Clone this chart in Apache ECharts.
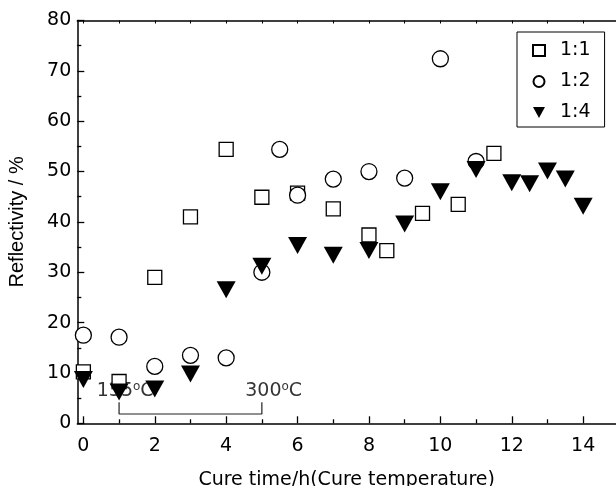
<!DOCTYPE html>
<html>
<head>
<meta charset="utf-8">
<script src="https://cdn.jsdelivr.net/npm/echarts@6/dist/echarts.min.js"></script>
<style>html,body{margin:0;padding:0;background:#fff}#c{width:616px;height:486px}</style>
</head>
<body>
<div id="c"></div>
<script>
// ---- data ----
const seriesNames = ['1:1', '1:2', '1:4'];
const x11 = [0, 1, 2, 3, 4, 5, 6, 7, 8, 8.5, 9.5, 10.5, 11.5];
const y11 = [10.2, 8.3, 29.0, 41.0, 54.4, 44.9, 45.7, 42.6, 37.4, 34.3, 41.7, 43.5, 53.6];
const x12 = [0, 1, 2, 3, 4, 5, 5.5, 6, 7, 8, 9, 10, 11];
const y12 = [17.5, 17.1, 11.3, 13.5, 13.0, 30.0, 54.4, 45.3, 48.5, 50.0, 48.7, 72.4, 52.0];
const x14 = [0, 1, 2, 3, 4, 5, 6, 7, 8, 9, 10, 11, 12, 12.5, 13, 13.5, 14];
const y14 = [8.7, 6.2, 6.8, 9.8, 26.5, 31.2, 35.3, 33.4, 34.3, 39.6, 46.0, 50.4, 47.8, 47.6, 50.1, 48.5, 43.1];
const xTickLabels = [0, 2, 4, 6, 8, 10, 12, 14];
const xMinorTicks = [1, 3, 5, 7, 9, 11, 13];
const xTopTicks = [0, 1, 2, 3, 4, 5, 6, 7, 8, 9, 10, 11, 12, 13, 14];
const bracketX = [1, 1, 5, 5];
const bracketY = [4.2, 1.85, 1.85, 4.2];
const tempLabels = ['135', '300'];
const tempLabelX = [1.17, 5.33];
const tempLabelY = [6.4, 6.4];

const zip = (a, b) => a.map((v, i) => [v, b[i]]);
const F = 'DejaVu Sans';
const FS = 19;
const axisLineStyle = {color: '#000', width: 1.5};

const option = {
  animation: false,
  backgroundColor: '#fff',
  grid: {left: 77.3, right: 0, top: 20.5, bottom: 62.7, containLabel: false, outerBoundsMode: 'none'},
  legend: {
    orient: 'vertical', left: 517, top: 32,
    padding: [9, 14, 5, 15], itemGap: 12,
    itemWidth: 12, itemHeight: 11,
    borderColor: '#000', borderWidth: 1,
    textStyle: {fontFamily: F, fontSize: FS, color: '#000', padding: [0, 0, 0, 10]},
    data: seriesNames
  },
  xAxis: [
    {
      type: 'value', min: -0.17, max: 14.92, position: 'bottom',
      name: 'Cure time/h(Cure temperature)', nameLocation: 'middle', nameGap: 47,
      nameTextStyle: {fontFamily: F, fontSize: FS, color: '#000'},
      axisLine: {show: true, onZero: false, lineStyle: axisLineStyle},
      axisTick: {show: true, inside: true, length: 7, lineStyle: {color: '#000', width: 1.3}, customValues: xTickLabels},
      axisLabel: {fontFamily: F, fontSize: FS, color: '#000', margin: 13, customValues: xTickLabels},
      splitLine: {show: false}
    },
    {
      type: 'value', min: -0.17, max: 14.92, position: 'bottom',
      axisLine: {show: false},
      axisTick: {show: true, inside: true, length: 4, lineStyle: {color: '#000', width: 1.3}, customValues: xMinorTicks},
      axisLabel: {show: false},
      splitLine: {show: false}
    },
    {
      type: 'value', min: -0.17, max: 14.92, position: 'top',
      axisLine: {show: true, onZero: false, lineStyle: axisLineStyle},
      axisTick: {show: true, inside: true, length: 3, lineStyle: {color: '#000', width: 1}, customValues: xTopTicks},
      axisLabel: {show: false},
      splitLine: {show: false}
    }
  ],
  yAxis: {
    type: 'value', min: 0, max: 80, interval: 10,
    name: 'Reflectivity / %', nameLocation: 'middle', nameGap: 50,
    nameTextStyle: {fontFamily: 'Liberation Sans', fontSize: 20, color: '#000'},
    axisLine: {show: true, onZero: false, lineStyle: axisLineStyle},
    axisTick: {show: true, inside: true, length: 7, lineStyle: {color: '#000', width: 1.3}},
    minorTick: {show: true, splitNumber: 2, length: 4, lineStyle: {color: '#000', width: 1.3}},
    axisLabel: {fontFamily: F, fontSize: FS, color: '#000', margin: 6},
    splitLine: {show: false}
  },
  series: [
    {
      type: 'line', data: zip(bracketX, bracketY), symbol: 'none', silent: true,
      lineStyle: {color: '#222', width: 1.2}, z: 1
    },
    {
      type: 'scatter', data: zip(tempLabelX, tempLabelY), symbolSize: 0, silent: true, z: 1,
      label: {
        show: true, position: 'inside',
        formatter: p => '{n|' + tempLabels[p.dataIndex] + '}{s|o}{n|C}',
        rich: {
          n: {fontFamily: F, fontSize: FS, color: '#000', lineHeight: 20},
          s: {fontFamily: F, fontSize: 12, color: '#000', verticalAlign: 'top', lineHeight: 5}
        }
      }
    },
    {
      name: seriesNames[0], type: 'scatter', data: zip(x11, y11), z: 3,
      symbol: 'rect', symbolSize: 14,
      itemStyle: {color: '#fff', borderColor: '#000', borderWidth: 1.3, opacity: 1}
    },
    {
      name: seriesNames[1], type: 'scatter', data: zip(x12, y12), z: 4,
      symbol: 'circle', symbolSize: 16,
      itemStyle: {color: '#fff', borderColor: '#000', borderWidth: 1.3, opacity: 1}
    },
    {
      name: seriesNames[2], type: 'scatter', data: zip(x14, y14), z: 5,
      symbol: 'path://M0,0 L20,0 L10,18 Z', symbolSize: [19, 17],
      itemStyle: {color: '#000', borderColor: '#000', borderWidth: 0, opacity: 1}
    }
  ]
};
const chart = echarts.init(document.getElementById('c'), null, {renderer: 'canvas'});
chart.setOption(option);
</script>
</body>
</html>
